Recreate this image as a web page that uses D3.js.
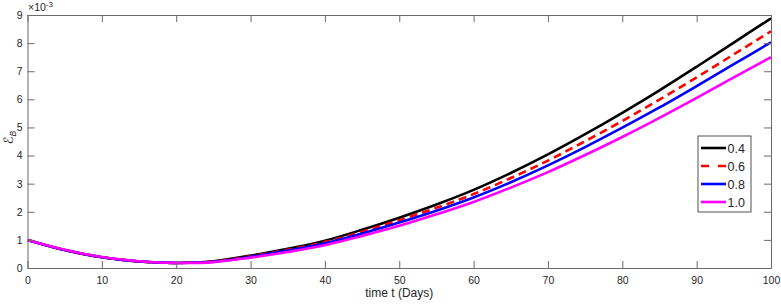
<!DOCTYPE html>
<html>
<head>
<meta charset="utf-8">
<script src="https://cdn.jsdelivr.net/npm/d3@7"></script>
<style>
  body { margin: 0; background: #fff; }
  svg { display: block; font-family: "Liberation Sans", Arial, Helvetica, sans-serif; }
</style>
</head>
<body>
<div id="chart_place" style="width:781px;height:304px"></div>
<script>
// data (values in units of 1e-3)
const days = [0, 5, 10, 15, 20, 25, 30, 35, 40, 45, 50, 55, 60, 65, 70, 75, 80, 85, 90, 95, 100];
const series04 = [1.00, 0.64, 0.38, 0.23, 0.18, 0.24, 0.44, 0.68, 0.97, 1.36, 1.79, 2.26, 2.78, 3.38, 4.04, 4.76, 5.52, 6.32, 7.16, 8.02, 8.88];
const series06 = [1.00, 0.64, 0.38, 0.23, 0.18, 0.23, 0.42, 0.65, 0.92, 1.29, 1.70, 2.14, 2.63, 3.20, 3.82, 4.51, 5.23, 5.99, 6.78, 7.60, 8.42];
const series08 = [1.00, 0.64, 0.38, 0.23, 0.18, 0.22, 0.40, 0.62, 0.88, 1.23, 1.62, 2.04, 2.51, 3.05, 3.65, 4.30, 4.99, 5.71, 6.47, 7.25, 8.03];
const series10 = [1.00, 0.65, 0.39, 0.24, 0.18, 0.21, 0.37, 0.57, 0.81, 1.14, 1.50, 1.91, 2.35, 2.86, 3.41, 4.02, 4.66, 5.34, 6.05, 6.78, 7.50];
const legendLabels = ["0.4", "0.6", "0.8", "1.0"];
const xTicks = [0, 10, 20, 30, 40, 50, 60, 70, 80, 90, 100];
const yTicks = [0, 1, 2, 3, 4, 5, 6, 7, 8, 9];

let dimensions = {
  width: 781,
  height: 304,
  margin: { top: 15, right: 10, bottom: 36, left: 27.5 },
};
dimensions.boundedWidth = dimensions.width - dimensions.margin.left - dimensions.margin.right;
dimensions.boundedHeight = dimensions.height - dimensions.margin.top - dimensions.margin.bottom;

const axisColor = "#6b6b6b";
const textColor = "#262626";

const svg = d3
  .select("#chart_place")
  .append("svg")
  .attr("width", dimensions.width)
  .attr("height", dimensions.height);

const g = svg
  .append("g")
  .attr("transform", `translate(${dimensions.margin.left},${dimensions.margin.top})`);

const x = d3.scaleLinear().domain([0, 100]).range([0, dimensions.boundedWidth]);
const y = d3.scaleLinear().domain([0, 9]).range([dimensions.boundedHeight, 0]);

// clip
svg.append("defs")
  .append("clipPath")
  .attr("id", "clip")
  .append("rect")
  .attr("width", dimensions.boundedWidth)
  .attr("height", dimensions.boundedHeight);

// lines
const styles = [
  { data: series04, color: "#000000", dash: null },
  { data: series06, color: "#ff0000", dash: "8,5" },
  { data: series08, color: "#0000ff", dash: null },
  { data: series10, color: "#ff00ff", dash: null },
];

const line = d3
  .line()
  .x((d, i) => x(days[i]))
  .y((d) => y(d))
  .curve(d3.curveCatmullRom.alpha(0.5));

const lines = g.append("g").attr("clip-path", "url(#clip)");
styles.forEach((s) => {
  lines
    .append("path")
    .attr("d", line(s.data))
    .attr("fill", "none")
    .attr("stroke", s.color)
    .attr("stroke-width", 2.6)
    .attr("stroke-dasharray", s.dash);
});

// axes (MATLAB-like box with inward ticks)
const tickLen = 7;
const xAxis = d3.axisBottom(x).tickValues(xTicks).tickSizeInner(-tickLen).tickSizeOuter(0).tickPadding(9);
const yAxis = d3.axisLeft(y).tickValues(yTicks).tickSizeInner(-tickLen).tickSizeOuter(0).tickPadding(5);
const xAxisTop = d3.axisTop(x).tickValues(xTicks).tickSizeInner(-tickLen).tickSizeOuter(0).tickFormat("");
const yAxisRight = d3.axisRight(y).tickValues(yTicks).tickSizeInner(-tickLen).tickSizeOuter(0).tickFormat("");

function styleAxis(sel) {
  sel.selectAll("path").attr("stroke", axisColor);
  sel.selectAll("line").attr("stroke", axisColor);
  sel.selectAll("text").attr("fill", textColor).style("font-size", "10.5px");
}

g.append("g").attr("transform", `translate(0,${dimensions.boundedHeight})`).call(xAxis).call(styleAxis);
g.append("g").call(yAxis).call(styleAxis);
g.append("g").call(xAxisTop).call(styleAxis);
g.append("g").attr("transform", `translate(${dimensions.boundedWidth},0)`).call(yAxisRight).call(styleAxis);
svg.selectAll(".domain").attr("stroke-width", 1);

// exponent label
const expText = g
  .append("text")
  .attr("x", 0.5)
  .attr("y", -4)
  .attr("fill", textColor)
  .style("font-size", "10.5px");
expText.append("tspan").text("\u00d710");
expText.append("tspan").attr("dy", -4).style("font-size", "8px").text("-3");

// x label
g.append("text")
  .attr("x", dimensions.boundedWidth / 2)
  .attr("y", dimensions.boundedHeight + 29)
  .attr("text-anchor", "middle")
  .attr("fill", textColor)
  .style("font-size", "12px")
  .text("time t (Days)");

// y label
const yLabel = svg
  .append("text")
  .attr("transform", `translate(13,${dimensions.margin.top + dimensions.boundedHeight / 2 - 4}) rotate(-90)`)
  .attr("text-anchor", "middle")
  .attr("fill", textColor)
  .style("font-size", "13px");
yLabel.append("tspan").style("font-family", "DejaVu Sans, sans-serif").text("\u2130");
yLabel.append("tspan").attr("dy", 3).style("font-size", "8.5px").style("font-style", "italic").text("B");

// legend
const legend = svg.append("g").attr("transform", "translate(698,136)");
legend
  .append("rect")
  .attr("width", 53)
  .attr("height", 76)
  .attr("fill", "#fff")
  .attr("stroke", textColor)
  .attr("stroke-width", 0.8);

styles.forEach((s, i) => {
  const row = legend.append("g").attr("transform", `translate(0,${12 + i * 18})`);
  row
    .append("line")
    .attr("x1", 3)
    .attr("x2", 28)
    .attr("stroke", s.color)
    .attr("stroke-width", 2.6)
    .attr("stroke-dasharray", s.dash ? "8,9" : null);
  row
    .append("text")
    .attr("x", 29.5)
    .attr("y", 4.5)
    .attr("fill", textColor)
    .style("font-size", "12.5px")
    .text(legendLabels[i]);
});
</script>
</body>
</html>
